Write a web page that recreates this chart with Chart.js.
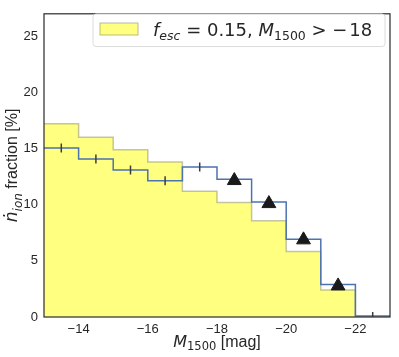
<!DOCTYPE html>
<html>
<head>
<meta charset="utf-8">
<script src="https://cdn.jsdelivr.net/npm/chart.js@4.4.1/dist/chart.umd.min.js"></script>
<style>
    html, body { margin: 0; padding: 0; background: #ffffff; }
</style>
</head>
<body>
<canvas id="ionChart" width="399" height="357"></canvas>
<script>
//#region Data
const binEdges = [-13, -14, -15, -16, -17, -18, -19, -20, -21, -22, -23];
const fescFraction = [17.2, 16.0, 14.9, 13.8, 11.2, 10.2, 8.56, 5.83, 2.4, 0];
const modelFraction = [15.05, 14.07, 13.1, 12.14, 13.36, 12.26, 10.24, 6.92, 2.89, 0.1];
const errMag = [-13.5, -14.5, -15.5, -16.5, -17.5, -22.5];
const errFraction = [15.05, 14.07, 13.1, 12.14, 13.36, 0.22];
const errHalf = [4.5, 4.5, 4.5, 4.5, 4.5, 2.5];
const obsMag = [-18.5, -19.5, -20.5, -21.5];
const obsFraction = [12.15, 10.1, 6.87, 2.77];
const xTicks = [-14, -16, -18, -20, -22];
const yTicks = [0, 5, 10, 15, 20, 25];
//#endregion

//#region Helpers
function StepPoints(values) {
    // one point per bin edge; bin i runs from point i to point i+1 at values[i]
    return binEdges.map((edge, i) => ({ x: edge, y: values[Math.min(i, values.length - 1)] }));
}

function RichWidth(ctx, segs) {
    let w = 0;
    segs.forEach(s => { ctx.font = s.font; w += ctx.measureText(s.t).width; });
    return w;
}

function DrawRich(ctx, x, y, segs) {
    let cx = x;
    segs.forEach(s => {
        ctx.font = s.font;
        ctx.fillText(s.t, cx, y + (s.dy || 0));
        cx += ctx.measureText(s.t).width;
    });
}
//#endregion

//#region Labels Plugin
const MATH = "'DejaVu Sans'";
const SANS = "'Liberation Sans', Arial";

const labelsPlugin = {
    id: "labels",
    afterDatasetsDraw(chart) {
        const ctx = chart.ctx;
        const area = chart.chartArea;
        ctx.save();

        // frame
        ctx.strokeStyle = "#333333";
        ctx.lineWidth = 1.25;
        ctx.strokeRect(area.left, area.top, area.right - area.left, area.bottom - area.top);

        ctx.fillStyle = "#262626";
        ctx.textBaseline = "alphabetic";

        // x title
        const xSegs = [
            { t: "M", font: "italic 16px " + MATH },
            { t: "1500", font: "11.5px " + MATH, dy: 3.5 },
            { t: " [mag]", font: "16px " + SANS }
        ];
        const xw = RichWidth(ctx, xSegs);
        DrawRich(ctx, (area.left + area.right) / 2 - xw / 2, 346.5, xSegs);

        // y title
        const ySegs = [
            { t: "\u1E45", font: "italic 17px " + MATH },
            { t: "ion", font: "italic 12px " + MATH, dy: 4.5 },
            { t: " fraction [%]", font: "16px " + SANS }
        ];
        const yw = RichWidth(ctx, ySegs);
        ctx.save();
        ctx.translate(17, (area.top + area.bottom) / 2);
        ctx.rotate(-Math.PI / 2);
        DrawRich(ctx, -yw / 2, 0, ySegs);
        ctx.restore();

        // legend
        ctx.beginPath();
        ctx.roundRect(93, 14, 292, 32.5, 3);
        ctx.fillStyle = "rgba(255,255,255,0.85)";
        ctx.fill();
        ctx.strokeStyle = "#dcdcdc";
        ctx.lineWidth = 1;
        ctx.stroke();

        ctx.fillStyle = "#ffff80";
        ctx.fillRect(100, 23, 38, 12);
        ctx.strokeStyle = "rgba(140,140,110,0.6)";
        ctx.strokeRect(100, 23, 38, 12);

        ctx.fillStyle = "#262626";
        const legSegs = [
            { t: "f", font: "italic 18px " + MATH },
            { t: "esc", font: "italic 12.5px " + MATH, dy: 4 },
            { t: " = 0.15, ", font: "18px " + MATH },
            { t: "M", font: "italic 18px " + MATH },
            { t: "1500", font: "12.5px " + MATH, dy: 4 },
            { t: " > \u2212\u200A18", font: "18px " + MATH }
        ];
        DrawRich(ctx, 153, 36, legSegs);

        ctx.restore();
    }
};
//#endregion

//#region Load Ion Fraction Chart
function LoadIonFractionChart() {
    const element = document.querySelector("#ionChart");
    const tickFont = { family: SANS, size: 13 };
    const chart = new Chart(element, {
        type: "line",
        data: {
            datasets: [{
                // observed points
                type: "scatter",
                data: obsMag.map((m, i) => ({ x: m, y: obsFraction[i] })),
                pointStyle: "triangle",
                pointRadius: 8,
                backgroundColor: "#1a1a1a",
                borderColor: "#1a1a1a",
                borderWidth: 1,
                order: 0
            }, {
                // error bars
                type: "scatter",
                data: errMag.map((m, i) => ({ x: m, y: errFraction[i] })),
                pointStyle: "line",
                pointRotation: 90,
                pointRadius: errHalf,
                borderColor: "#3d3d3d",
                borderWidth: 1.5,
                order: 1
            }, {
                // model step line
                data: StepPoints(modelFraction),
                stepped: "before",
                borderColor: "#4c72b0",
                borderWidth: 1.5,
                pointRadius: 0,
                fill: false,
                order: 2
            }, {
                // f_esc histogram
                data: StepPoints(fescFraction),
                stepped: "before",
                borderColor: "rgba(150,150,120,0.55)",
                borderWidth: 1.5,
                backgroundColor: "#ffff80",
                pointRadius: 0,
                fill: "origin",
                order: 3
            }]
        },
        options: {
            responsive: false,
            animation: false,
            devicePixelRatio: 1,
            layout: { padding: { top: 4.5, right: 4, left: 0, bottom: 0 } },
            plugins: {
                legend: { display: false },
                tooltip: { enabled: false }
            },
            scales: {
                x: {
                    type: "linear",
                    min: -23,
                    max: -13,
                    reverse: true,
                    grid: { display: false, drawTicks: false },
                    border: { display: false },
                    afterBuildTicks: scale => { scale.ticks = xTicks.map(v => ({ value: v })); },
                    afterFit: scale => { scale.height = 40; },
                    ticks: {
                        font: tickFont,
                        color: "#262626",
                        padding: 5,
                        maxRotation: 0,
                        callback: v => String(v).replace("-", "\u2212")
                    }
                },
                y: {
                    min: 0,
                    max: 27,
                    grid: { display: false, drawTicks: false },
                    border: { display: false },
                    afterBuildTicks: scale => { scale.ticks = yTicks.map(v => ({ value: v })); },
                    afterFit: scale => { scale.width = 44; },
                    ticks: {
                        font: tickFont,
                        color: "#262626",
                        padding: 6
                    }
                }
            }
        },
        plugins: [labelsPlugin]
    });
}
//#endregion

LoadIonFractionChart();
</script>
</body>
</html>
